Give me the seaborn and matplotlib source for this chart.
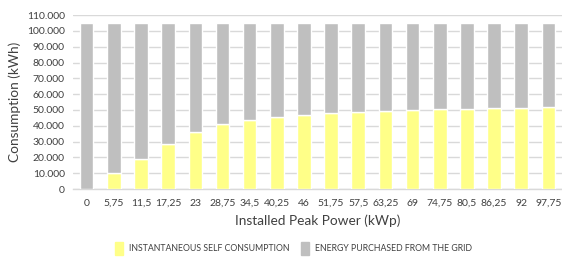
import matplotlib
matplotlib.use("Agg")
import matplotlib.pyplot as plt
import matplotlib.patches as mpatches
from matplotlib.ticker import FuncFormatter, MultipleLocator
import pandas as pd
import seaborn as sns

# ── Data ─────────────────────────────────────────────────────────────────────
peak_power = ["0", "5,75", "11,5", "17,25", "23", "28,75", "34,5", "40,25", "46",
              "51,75", "57,5", "63,25", "69", "74,75", "80,5", "86,25", "92", "97,75"]
self_consumption = [0, 9900, 19000, 28450, 35850, 41100, 43850, 45500, 46800,
                    47850, 48700, 49300, 49750, 50350, 50600, 51000, 51200, 51600]
grid_purchase = [105000, 95100, 86000, 76550, 69150, 63900, 61150, 59500, 58200,
                 57150, 56300, 55700, 55250, 54650, 54400, 54000, 53800, 53400]

YELLOW = "#FFFF88"
GREY = "#BFBFBF"
GRID = "#D9D9D9"
TEXT = "#404040"

df = pd.DataFrame({"power": peak_power, "self": self_consumption,
                   "grid": grid_purchase})

sns.set_style("white")
plt.rcParams["font.family"] = ["Lato", "DejaVu Sans"]

fig = plt.figure(figsize=(5.62, 2.6), dpi=100)
ax = fig.add_axes([0.130, 0.273, 0.870, 0.669])

sns.barplot(data=df, x="power", y="self", color=YELLOW, width=0.5,
            saturation=1, ax=ax, zorder=3)
sns.barplot(data=df, x="power", y="grid", color=GREY, width=0.5,
            saturation=1, bottom=df["self"], ax=ax, zorder=3)

ax.set_ylim(0, 110000)
ax.set_xlim(-0.5, len(peak_power) - 0.5)
ax.yaxis.set_major_locator(MultipleLocator(10000))
ax.yaxis.set_major_formatter(FuncFormatter(lambda v, _: f"{int(v):,}".replace(",", ".")))
ax.grid(axis="y", color=GRID, linewidth=1, zorder=0)
ax.set_axisbelow(True)

for s in ["top", "right", "left"]:
    ax.spines[s].set_visible(False)
ax.spines["bottom"].set_color(GRID)
ax.spines["bottom"].set_linewidth(1)

ax.tick_params(axis="y", length=0, labelsize=7.5, labelcolor=TEXT, pad=6)
ax.tick_params(axis="x", which="major", length=0, labelsize=7.5,
               labelcolor=TEXT, pad=7)
ax.set_xticks([i - 0.5 for i in range(len(peak_power) + 1)], minor=True)
ax.tick_params(axis="x", which="minor", length=4, color=GRID, width=1)

ax.set_ylabel("Consumption (kWh)", fontsize=9.8, color=TEXT, labelpad=4)
ax.set_xlabel("Installed Peak Power (kWp)", fontsize=9.8, color=TEXT, labelpad=5)

handles = [mpatches.Patch(color=YELLOW, label="INSTANTANEOUS SELF CONSUMPTION"),
           mpatches.Patch(color=GREY, label="ENERGY PURCHASED FROM THE GRID")]
fig.legend(handles=handles, loc="center", bbox_to_anchor=(0.522, 0.045), ncol=2,
           frameon=False, fontsize=6.3, handlelength=0.9, handleheight=1.9,
           columnspacing=1.3, handletextpad=0.7, labelcolor=TEXT)

fig.savefig("out.png", dpi=100)
